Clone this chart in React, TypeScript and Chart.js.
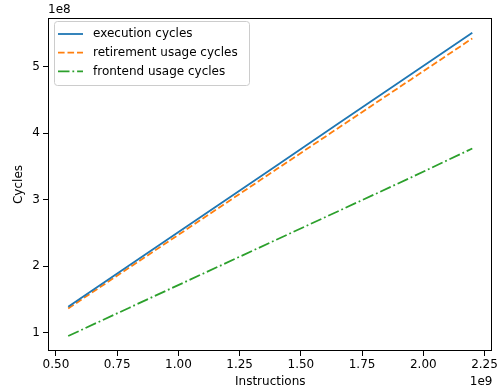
import React, { useEffect, useRef } from 'react';
import { Chart, registerables } from 'chart.js';

Chart.register(...registerables);

// ---- data (x: instructions, y: cycles) ----
const instructions = [0.55e9, 0.8e9, 1.1e9, 1.4e9, 1.65e9, 1.95e9, 2.2e9];
const executionCycles = [1.39e8, 2.014e8, 2.763e8, 3.512e8, 4.137e8, 4.886e8, 5.51e8];
const retirementUsageCycles = [1.365e8, 1.98e8, 2.718e8, 3.456e8, 4.071e8, 4.809e8, 5.425e8];
const frontendUsageCycles = [0.95e8, 1.376e8, 1.887e8, 2.398e8, 2.823e8, 3.334e8, 3.77e8];

const seriesLabels = ['execution cycles', 'retirement usage cycles', 'frontend usage cycles'];
const xTickValues = [0.5e9, 0.75e9, 1.0e9, 1.25e9, 1.5e9, 1.75e9, 2.0e9, 2.25e9];
const yTickValues = [1e8, 2e8, 3e8, 4e8, 5e8];

const FONT = 'DejaVu Sans';

const framePlugin = {
  id: 'frame',
  afterDatasetsDraw(chart: any) {
    const { ctx, chartArea: a } = chart;
    ctx.save();
    ctx.strokeStyle = '#000';
    ctx.lineWidth = 1;
    ctx.setLineDash([]);
    ctx.strokeRect(
      Math.round(a.left) + 0.5,
      Math.round(a.top) + 0.5,
      Math.round(a.right) - Math.round(a.left) - 1,
      Math.round(a.bottom) - Math.round(a.top) - 1
    );
    ctx.restore();
  },
};

const extrasPlugin = {
  id: 'extras',
  afterDraw(chart: any) {
    const { ctx, chartArea: a } = chart;
    ctx.save();
    ctx.font = `12px "${FONT}"`;
    ctx.fillStyle = '#000';
    ctx.textBaseline = 'middle';
    // offset texts
    ctx.textAlign = 'left';
    ctx.fillText('1e8', a.left, 10);
    ctx.textAlign = 'right';
    ctx.fillText('1e9', a.right, 382);

    // legend
    const x0 = a.left + 6;
    const y0 = a.top + 3;
    const w = 195;
    const h = 64;
    ctx.beginPath();
    (ctx as any).roundRect(x0 + 0.5, y0 + 0.5, w, h, 3);
    ctx.fillStyle = 'rgba(255,255,255,0.8)';
    ctx.fill();
    ctx.strokeStyle = '#cccccc';
    ctx.lineWidth = 1;
    ctx.stroke();
    chart.data.datasets.forEach((ds: any, i: number) => {
      const y = y0 + 13 + i * 18.7;
      ctx.beginPath();
      ctx.strokeStyle = ds.borderColor;
      ctx.lineWidth = ds.borderWidth;
      ctx.setLineDash(ds.borderDash || []);
      ctx.moveTo(x0 + 4, y);
      ctx.lineTo(x0 + 29, y);
      ctx.stroke();
      ctx.setLineDash([]);
      ctx.fillStyle = '#000';
      ctx.textAlign = 'left';
      ctx.fillText(ds.label, x0 + 39, y);
    });
    ctx.restore();
  },
};

export default function App() {
  const ref = useRef<HTMLCanvasElement | null>(null);

  useEffect(() => {
    if (!ref.current) return;
    Chart.defaults.font.family = FONT;
    Chart.defaults.font.size = 12;
    Chart.defaults.color = '#000';

    const mk = (ys: number[]) => instructions.map((x, i) => ({ x, y: ys[i] }));

    const chart = new Chart(ref.current, {
      type: 'line',
      data: {
        datasets: [
          {
            label: seriesLabels[0],
            data: mk(executionCycles),
            borderColor: '#1f77b4',
            borderWidth: 1.8,
            pointRadius: 0,
            tension: 0,
          },
          {
            label: seriesLabels[1],
            data: mk(retirementUsageCycles),
            borderColor: '#ff7f0e',
            borderWidth: 1.8,
            borderDash: [6.6, 2.9],
            pointRadius: 0,
            tension: 0,
          },
          {
            label: seriesLabels[2],
            data: mk(frontendUsageCycles),
            borderColor: '#2ca02c',
            borderWidth: 1.8,
            borderDash: [11.5, 2.9, 1.8, 2.9],
            pointRadius: 0,
            tension: 0,
          },
        ],
      },
      options: {
        responsive: false,
        animation: false,
        layout: { padding: { top: 18, right: 6, left: 0, bottom: 0 } },
        plugins: {
          legend: { display: false },
          tooltip: { enabled: false },
        },
        scales: {
          x: {
            type: 'linear',
            min: 0.4675e9,
            max: 2.2825e9,
            afterBuildTicks: (s: any) => {
              s.ticks = xTickValues.map((v) => ({ value: v }));
            },
            afterFit: (s: any) => {
              s.height = 38;
            },
            ticks: {
              autoSkip: false,
              maxRotation: 0,
              minRotation: 0,
              padding: 2,
              color: '#000',
              font: { family: FONT, size: 12 },
              callback: (v: any) => (Number(v) / 1e9).toFixed(2),
            },
            grid: {
              display: true,
              drawOnChartArea: false,
              drawTicks: true,
              tickLength: 5,
              color: '#000',
            },
            border: { display: false },
            title: {
              display: true,
              text: 'Instructions',
              color: '#000',
              font: { family: FONT, size: 12 },
              padding: { top: 0, bottom: 0 },
            },
          },
          y: {
            type: 'linear',
            min: 0.7248e8,
            max: 5.732e8,
            afterBuildTicks: (s: any) => {
              s.ticks = yTickValues.map((v) => ({ value: v }));
            },
            afterFit: (s: any) => {
              s.width = 48;
            },
            ticks: {
              autoSkip: false,
              padding: 3,
              color: '#000',
              font: { family: FONT, size: 12 },
              callback: (v: any) => String(Math.round(Number(v) / 1e8)),
            },
            grid: {
              display: true,
              drawOnChartArea: false,
              drawTicks: true,
              tickLength: 5,
              color: '#000',
            },
            border: { display: false },
            title: {
              display: true,
              text: 'Cycles',
              color: '#000',
              font: { family: FONT, size: 12 },
              padding: { top: 12, bottom: 0 },
            },
          },
        },
      },
      plugins: [framePlugin, extrasPlugin],
    });

    return () => chart.destroy();
  }, []);

  return (
    <div style={{ position: 'fixed', left: 0, top: 0, width: 500, height: 389, background: '#fff' }}>
      <canvas ref={ref} width={500} height={389} style={{ width: 500, height: 389, display: 'block' }} />
    </div>
  );
}
